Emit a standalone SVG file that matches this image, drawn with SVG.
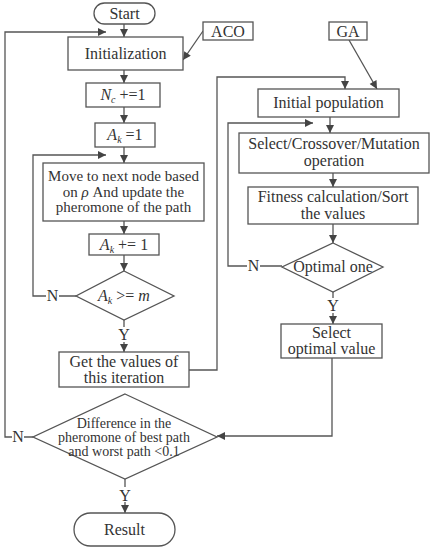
<svg xmlns="http://www.w3.org/2000/svg" width="435" height="550" viewBox="0 0 435 550">
<defs>
<style>
.box{fill:#fff;stroke:#555;stroke-width:1.3}
.ln{fill:none;stroke:#555;stroke-width:1.3}
.t{font-family:"Liberation Serif","Times New Roman",serif;font-size:16px;fill:#333;text-anchor:middle}
.s{font-size:14px}
.m{font-size:15px}
.i{font-style:italic}
</style>
<marker id="ah" viewBox="0 0 10 10" refX="10" refY="5" markerWidth="9" markerHeight="8" markerUnits="userSpaceOnUse" orient="auto">
<path d="M0,0 L10,5 L0,10 z" fill="#444"/>
</marker>
</defs>
<rect width="435" height="550" fill="#fff"/>
<g id="connectors">
<path class="ln" d="M124,24 V37" marker-end="url(#ah)"/>
<path class="ln" d="M203,31 L183,60" marker-end="url(#ah)"/>
<path class="ln" d="M124,70 V83" marker-end="url(#ah)"/>
<path class="ln" d="M124,107 V123" marker-end="url(#ah)"/>
<path class="ln" d="M124,147 V163" marker-end="url(#ah)"/>
<path class="ln" d="M124,221 V234" marker-end="url(#ah)"/>
<path class="ln" d="M124,255 V271" marker-end="url(#ah)"/>
<path class="ln" d="M76,296 H59 M46,296 H33 V155 H106" marker-end="url(#ah)"/>
<path class="ln" d="M124,320 V327 M124,342 V352" marker-end="url(#ah)"/>
<path class="ln" d="M189,370 H217 V77 H345 V89" marker-end="url(#ah)"/>
<path class="ln" d="M349,40 L377,89" marker-end="url(#ah)"/>
<path class="ln" d="M330,117 V133" marker-end="url(#ah)"/>
<path class="ln" d="M333,173 V187" marker-end="url(#ah)"/>
<path class="ln" d="M333,224 V243" marker-end="url(#ah)"/>
<path class="ln" d="M282,266 H260 M247,266 H228 V123 H313" marker-end="url(#ah)"/>
<path class="ln" d="M333,292 V298 M333,313 V324" marker-end="url(#ah)"/>
<path class="ln" d="M332,358 V436 H217" marker-end="url(#ah)"/>
<path class="ln" d="M33,437 H24 M12,437 H5 V32 H106" marker-end="url(#ah)"/>
<path class="ln" d="M125,479 V487 M125,502 V513" marker-end="url(#ah)"/>
</g>
<g id="start"><rect class="box" x="94" y="3" width="61" height="21" rx="10.5"/><text class="t" x="124.5" y="19">Start</text></g>
<g id="init"><rect class="box" x="68" y="37" width="115" height="33"/><text class="t" x="125.5" y="59">Initialization</text></g>
<g id="aco"><rect class="box" x="203" y="22" width="50" height="18"/><text class="t" x="228" y="37">ACO</text></g>
<g id="ga"><rect class="box" x="329" y="22" width="38" height="18"/><text class="t" x="348" y="37">GA</text></g>
<g id="nc"><rect class="box" x="86" y="83" width="74" height="24"/><text class="t" x="123" y="100"><tspan class="i">N</tspan><tspan class="i" font-size="10" dy="3">c</tspan><tspan dy="-3"> +=1</tspan></text></g>
<g id="ak1"><rect class="box" x="95" y="123" width="60" height="24"/><text class="t" x="125" y="140"><tspan class="i">A</tspan><tspan class="i" font-size="10" dy="3">k</tspan><tspan dy="-3"> =1</tspan></text></g>
<g id="move"><rect class="box" x="43" y="163" width="161" height="58"/>
<text class="t m" x="123.5" y="181">Move to next node based</text>
<text class="t m" x="123.5" y="196.5">on <tspan class="i">ρ</tspan> And update the</text>
<text class="t m" x="123.5" y="212">pheromone of the path</text></g>
<g id="akinc"><rect class="box" x="89" y="234" width="70" height="21"/><text class="t" x="124" y="250"><tspan class="i">A</tspan><tspan class="i" font-size="10" dy="3">k</tspan><tspan dy="-3"> += 1</tspan></text></g>
<g id="akm"><polygon class="box" points="124,271 174,296 124,320 76,296"/><text class="t" x="124" y="301"><tspan class="i">A</tspan><tspan class="i" font-size="10" dy="3">k</tspan><tspan dy="-3"> &gt;= </tspan><tspan class="i">m</tspan></text>
<text class="t" x="52.5" y="301">N</text><text class="t" x="124" y="340">Y</text></g>
<g id="getvals"><rect class="box" x="59" y="352" width="130" height="35"/>
<text class="t" x="124" y="367">Get the values of</text>
<text class="t" x="124" y="383">this iteration</text></g>
<g id="initpop"><rect class="box" x="258" y="89" width="141" height="28"/><text class="t" x="328.5" y="108">Initial population</text></g>
<g id="select"><rect class="box" x="239" y="133" width="190" height="40"/>
<text class="t" x="334" y="149">Select/Crossover/Mutation</text>
<text class="t" x="334" y="166">operation</text></g>
<g id="fitness"><rect class="box" x="248" y="187" width="170" height="37"/>
<text class="t" x="333" y="202">Fitness calculation/Sort</text>
<text class="t" x="333" y="218.5">the values</text></g>
<g id="optimal"><polygon class="box" points="333,243 383,267 333,292 282,267"/><text class="t" x="333" y="272">Optimal one</text>
<text class="t" x="253.5" y="271">N</text><text class="t" x="333" y="311">Y</text></g>
<g id="selopt"><rect class="box" x="281" y="324" width="101" height="34"/>
<text class="t" x="331.5" y="338">Select</text>
<text class="t" x="331.5" y="354">optimal value</text></g>
<g id="diff"><polygon class="box" points="125,394 217,437 125,479 33,437"/>
<text class="t s" x="124" y="428">Difference in the</text>
<text class="t s" x="124" y="442">pheromone of best path</text>
<text class="t s" x="124" y="456">and worst path &lt;0.1</text>
<text class="t" x="18" y="442">N</text><text class="t" x="125" y="501">Y</text></g>
<g id="result"><rect class="box" x="74" y="513" width="101" height="33" rx="16.5"/><text class="t" x="124.5" y="535">Result</text></g>
</svg>
